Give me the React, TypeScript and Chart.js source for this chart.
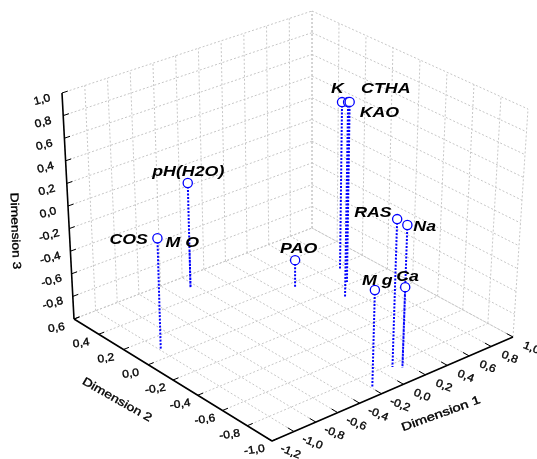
import React, { useEffect, useRef } from "react";
import { Chart, registerables } from "chart.js";

Chart.register(...registerables);

// ---- data (values in the chart's own dimensions) ----
const pointLabels = ["K", "CTHA", "KAO", "pH(H2O)", "COS", "M O", "PAO", "RAS", "Na", "M g", "Ca"];
const dimension1 = [0.736, 0.494, 0.658, -0.253, -0.988, -0.253, 0.32, 0.099, 0.161, -0.197, 0.142];
const dimension2 = [0.149, -0.101, 0.026, 0.487, 0.085, 0.487, 0.147, -0.825, -0.851, -0.923, -0.867];
const dimension3 = [0.519, 0.75, 0.62, -0.058, -0.03, -0.66, -0.749, 0.284, 0.224, -0.157, -0.298];
const dim1Ticks = [-1.2, -1.0, -0.8, -0.6, -0.4, -0.2, 0.0, 0.2, 0.4, 0.6, 0.8, 1.0];
const dim2Ticks = [0.6, 0.4, 0.2, 0.0, -0.2, -0.4, -0.6, -0.8, -1.0];
const dim3Ticks = [1.0, 0.8, 0.6, 0.4, 0.2, 0.0, -0.2, -0.4, -0.6, -0.8, -1.0];
const dim3TickLabels = ["1,0", "0,8", "0,6", "0,4", "0,2", "0,0", "-0,2", "-0,4", "-0,6", "-0,8", ""];
const fmt = (v: number) => v.toFixed(1).replace(".", ",");

// ---- layout of the projected box ----
const W = 537;
const H = 459;
const FLOOR = { F: [272, 441], R: [513, 337], L: [74, 319], B: [312, 228] };
const ROOF = { F: [272, 204], R: [528, 109], L: [62, 93], B: [312, 11] };
const D1 = [-1.2, 1.0];
const D2 = [-1.0, 0.6];
const D3 = [-1.0, 1.0];

type P = { x: number; y: number };

function project(d1: number, d2: number, d3: number): P {
  const s = (d1 - D1[0]) / (D1[1] - D1[0]);
  const t = (d2 - D2[0]) / (D2[1] - D2[0]);
  const w = (d3 - D3[0]) / (D3[1] - D3[0]);
  const mix = (c: typeof FLOOR, i: number) =>
    c.F[i] * (1 - s) * (1 - t) + c.R[i] * s * (1 - t) + c.L[i] * (1 - s) * t + c.B[i] * s * t;
  return {
    x: mix(FLOOR, 0) * (1 - w) + mix(ROOF, 0) * w,
    y: mix(FLOOR, 1) * (1 - w) + mix(ROOF, 1) * w,
  };
}

const BREAK: P = { x: NaN, y: NaN };
const seg = (a: number[], b: number[]): P[] => [
  project(a[0], a[1], a[2]),
  project(b[0], b[1], b[2]),
  BREAK,
];

function gridPoints(): P[] {
  const out: P[] = [];
  for (const a of dim1Ticks) {
    out.push(...seg([a, D2[0], D3[0]], [a, D2[1], D3[0]])); // floor
    out.push(...seg([a, D2[1], D3[0]], [a, D2[1], D3[1]])); // left wall
  }
  for (const b of dim2Ticks) {
    out.push(...seg([D1[0], b, D3[0]], [D1[1], b, D3[0]])); // floor
    out.push(...seg([D1[1], b, D3[0]], [D1[1], b, D3[1]])); // right wall
  }
  for (const c of dim3Ticks) {
    out.push(...seg([D1[0], D2[1], c], [D1[1], D2[1], c]));
    out.push(...seg([D1[1], D2[1], c], [D1[1], D2[0], c]));
  }
  return out;
}

function axisPoints(): P[] {
  return [
    ...seg([D1[0], D2[1], D3[1]], [D1[0], D2[1], D3[0]]),
    ...seg([D1[0], D2[1], D3[0]], [D1[0], D2[0], D3[0]]),
    ...seg([D1[0], D2[0], D3[0]], [D1[1], D2[0], D3[0]]),
  ];
}

function axisTickPoints(): P[] {
  const out: P[] = [];
  for (const c of dim3Ticks) out.push(...seg([D1[0], D2[1], c], [D1[0] + 0.05, D2[1], c]));
  for (const b of dim2Ticks) out.push(...seg([D1[0], b, D3[0]], [D1[0] + 0.05, b, D3[0]]));
  for (const a of dim1Ticks) out.push(...seg([a, D2[0], D3[0]], [a, D2[0] + 0.05, D3[0]]));
  return out;
}

function stemPoints(): P[] {
  const out: P[] = [];
  dimension1.forEach((d, i) => {
    out.push(...seg([d, dimension2[i], dimension3[i]], [d, dimension2[i], D3[0]]));
  });
  return out;
}

const markerPoints = (): P[] => dimension1.map((d, i) => project(d, dimension2[i], dimension3[i]));

// label placement relative to each marker: [dx to left edge, dy to baseline]
const labelOffsets: Record<string, number[]> = {
  K: [-11, -9],
  CTHA: [13, -9],
  KAO: [10, 15],
  "pH(H2O)": [-35.5, -7],
  COS: [-48, 6],
  "M O": [-24, -3],
  PAO: [-15, -7],
  RAS: [-43, -2],
  Na: [6, 6],
  "M g": [-13, -5],
  Ca: [-9, -6],
};

const textPlugin = {
  id: "boxText",
  afterDatasetsDraw(chart: any) {
    const { ctx, scales } = chart;
    const px = (p: P) => ({ x: scales.x.getPixelForValue(p.x), y: scales.y.getPixelForValue(p.y) });

    const rotated = (txt: string, cx: number, cy: number, deg: number, font: string, sx = 1) => {
      ctx.save();
      ctx.translate(cx, cy);
      ctx.rotate((deg * Math.PI) / 180);
      ctx.scale(sx, 1);
      ctx.font = font;
      ctx.fillStyle = "#000";
      ctx.strokeStyle = "#000";
      ctx.lineWidth = 0.35;
      ctx.textAlign = "center";
      ctx.textBaseline = "middle";
      ctx.fillText(txt, 0, 0);
      ctx.strokeText(txt, 0, 0);
      ctx.restore();
    };

    const tickFont = '11px "Liberation Sans"';
    dim3Ticks.forEach((c, i) => {
      const p = px(project(D1[0], D2[1], c));
      rotated(dim3TickLabels[i], p.x - 20, p.y + 7, -15, tickFont, 1.1);
    });
    dim2Ticks.forEach((b) => {
      const p = px(project(D1[0], b, D3[0]));
      rotated(fmt(b), p.x - 17.5, p.y + 9, -8, tickFont, 1.1);
    });
    dim1Ticks.forEach((a) => {
      const p = px(project(a, D2[0], D3[0]));
      rotated(fmt(a), p.x + 18.5, p.y + 11, 22, tickFont, 1.1);
    });

    const titleFont = '11.5px "Liberation Sans"';
    rotated("Dimension 3", 15, 231, 88, titleFont, 1.2);
    rotated("Dimension 2", 117, 400, 29.5, titleFont, 1.22);
    rotated("Dimension 1", 441, 414, -20, titleFont, 1.3);

    markerPoints().forEach((m, i) => {
      const p = px(m);
      const [dx, dy] = labelOffsets[pointLabels[i]];
      ctx.save();
      ctx.translate(p.x + dx, p.y + dy);
      ctx.scale(1.27, 1);
      ctx.font = 'italic bold 14px "Liberation Sans"';
      ctx.fillStyle = "#000";
      ctx.textAlign = "left";
      ctx.textBaseline = "alphabetic";
      ctx.fillText(pointLabels[i], 0, 0);
      ctx.restore();
    });
  },
};

export default function App() {
  const ref = useRef<HTMLCanvasElement>(null);
  useEffect(() => {
    const line = (data: P[], color: string, width: number, order: number, dash: number[] = []) => ({
      type: "line" as const,
      data,
      order,
      borderColor: color,
      borderWidth: width,
      borderDash: dash,
      pointRadius: 0,
      spanGaps: false,
      tension: 0,
      clip: false as const,
    });
    const chart = new Chart(ref.current!, {
      type: "scatter",
      data: {
        datasets: [
          line(gridPoints(), "#c6c6c6", 1, 5, [2, 2]),
          line(axisPoints(), "#000000", 1.6, 4),
          line(axisTickPoints(), "#000000", 1, 3),
          line(stemPoints(), "#0000ff", 2, 2, [2, 1.5]),
          {
            type: "scatter" as const,
            order: 1,
            data: markerPoints(),
            // the MO marker is hidden behind its own label in the picture
            pointRadius: (c: any) => (pointLabels[c.dataIndex] === "M O" ? 0 : 4.6),
            pointStyle: "circle",
            pointBorderColor: "#0000ff",
            pointBackgroundColor: "#ffffff",
            pointBorderWidth: 1.3,
            showLine: false,
            clip: false as const,
          } as any,
        ] as any,
      },
      options: {
        responsive: false,
        animation: false,
        layout: { padding: 0, autoPadding: false },
        plugins: { legend: { display: false }, tooltip: { enabled: false } },
        events: [],
        scales: {
          x: { type: "linear", display: false, min: 0, max: W },
          y: { type: "linear", display: false, min: 0, max: H, reverse: true },
        },
      },
      plugins: [textPlugin],
    });
    return () => chart.destroy();
  }, []);
  return (
    <div style={{ position: "fixed", left: 0, top: 0, width: W, height: H, background: "#fff" }}>
      <canvas ref={ref} width={W} height={H} style={{ display: "block" }} />
    </div>
  );
}
